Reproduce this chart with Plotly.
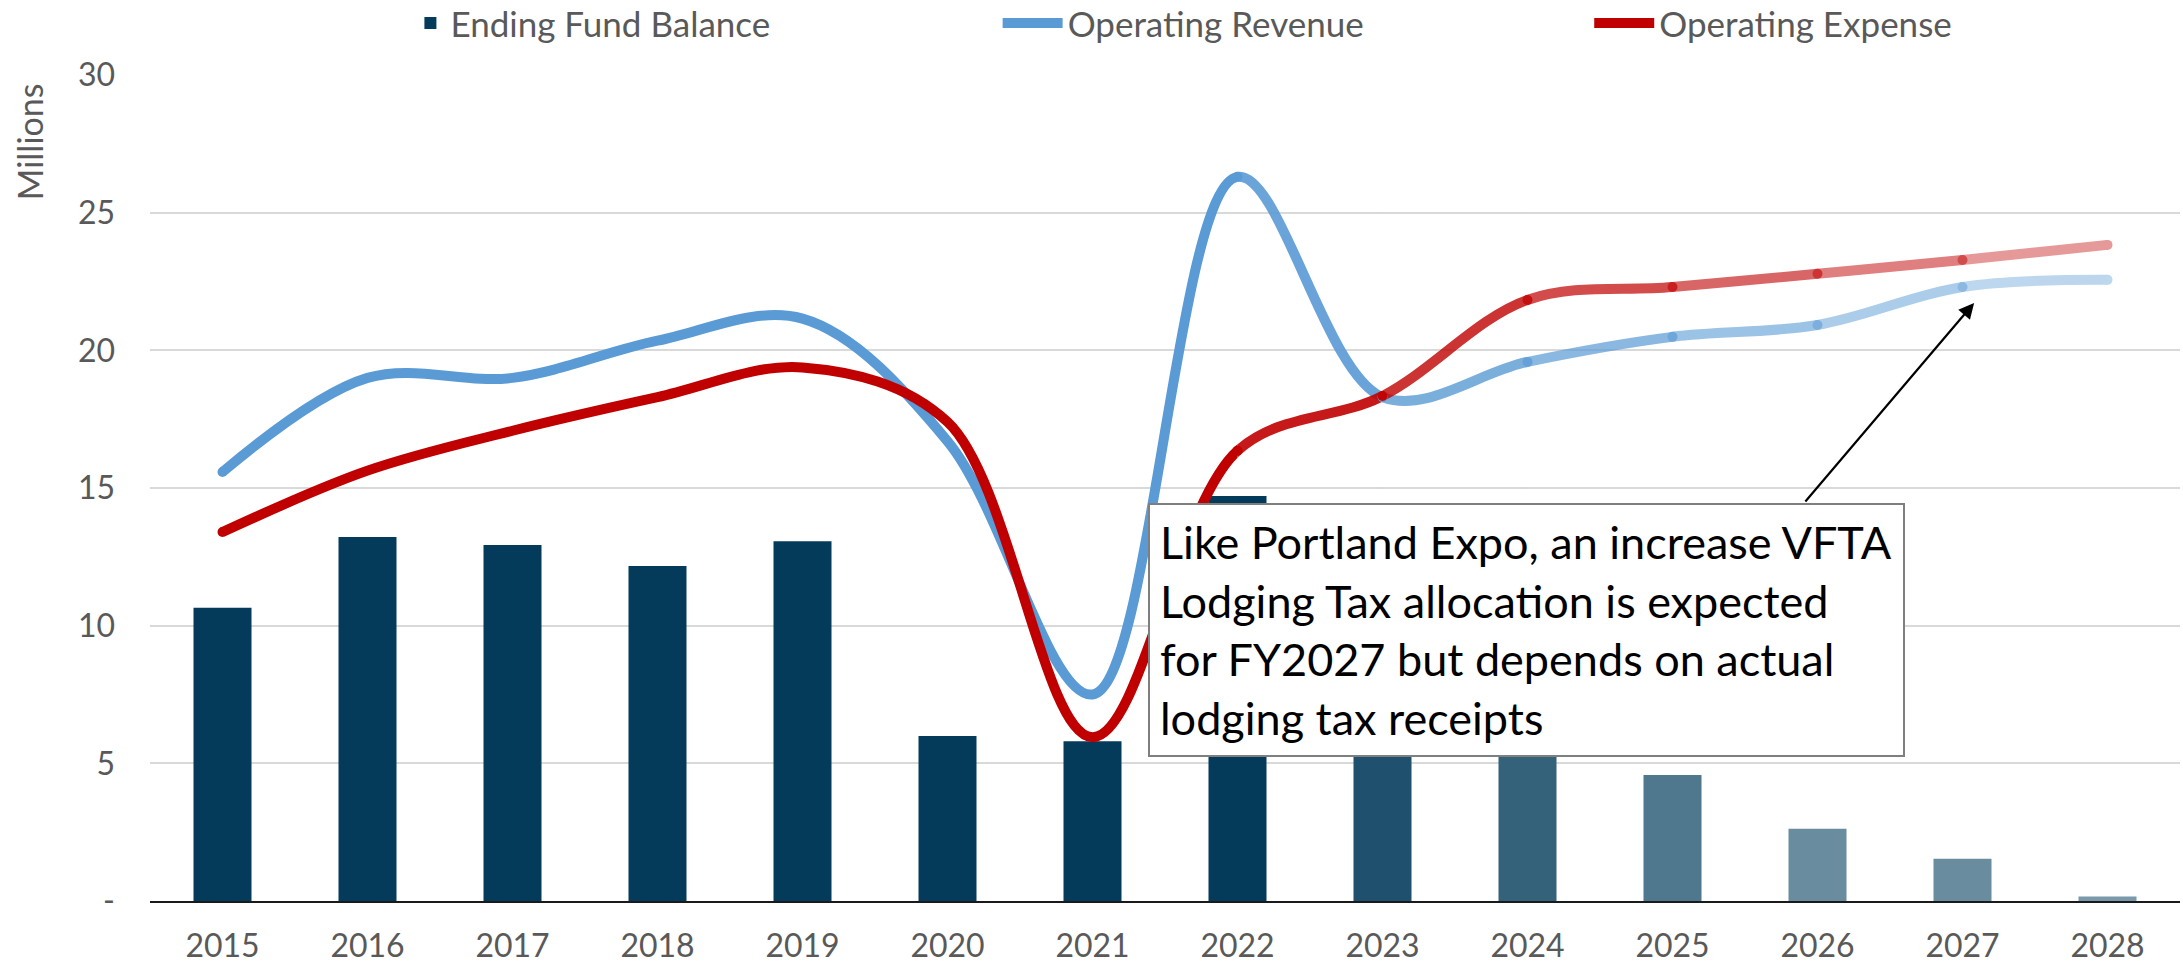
import plotly.graph_objects as go

# ---- data (millions) ----
years = ["2015", "2016", "2017", "2018", "2019", "2020", "2021",
         "2022", "2023", "2024", "2025", "2026", "2027", "2028"]
fund_balance = [10.65, 13.22, 12.93, 12.17, 13.07, 5.99, 5.80,
                14.71, 9.00, 7.00, 4.58, 2.62, 1.53, 0.16]
operating_revenue = [15.58, 19.00, 19.00, 20.35, 21.15, 16.70, 7.50,
                     26.30, 18.30, 19.58, 20.49, 20.92, 22.30, 22.56]
operating_expense = [13.40, 15.63, 17.08, 18.30, 19.38, 17.40, 5.95,
                     16.35, 18.34, 21.83, 22.30, 22.78, 23.28, 23.83]

y_ticks = [0, 5, 10, 15, 20, 25, 30]
y_tick_text = ["-", "5", "10", "15", "20", "25", "30"]

note = ("Like Portland Expo, an increase VFTA<br>"
        "Lodging Tax allocation is expected<br>"
        "for FY2027 but depends on actual<br>"
        "lodging tax receipts")

# ---- styling ----
FONT = "Lato, 'Open Sans', sans-serif"
GREY_TXT = "#595959"
NAVY = "#053B5A"
BLUE = "#5B9BD5"
RED = "#C00000"
bar_colors = [NAVY] * 8 + ["#1F506D", "#35627B", "#4F778D", "#698C9F", "#698C9F", "#7A99AA"]

# projected years fade out: (x-range start, x-range end, opacity)
segments = [(-0.5, 7, 1.0), (7, 8, 0.9), (8, 9, 0.8), (9, 10, 0.7),
            (10, 11, 0.6), (11, 12, 0.5), (12, 13.5, 0.4)]

n = len(years)
xs = list(range(n))


def dom(v):
    return (v + 0.5) / n


def blend(hex_color, alpha):
    h = hex_color.lstrip("#")
    rgb = [int(h[i:i + 2], 16) for i in (0, 2, 4)]
    out = [round(255 - (255 - c) * alpha) for c in rgb]
    return "rgb({},{},{})".format(*out)


fig = go.Figure()

fig.add_trace(go.Bar(
    x=xs, y=fund_balance, width=0.4, name="Ending Fund Balance",
    marker=dict(color=bar_colors, line=dict(width=0)),
    hoverinfo="skip", xaxis="x", yaxis="y", legend="legend",
))

layout_axes = {}
line_series = (("Operating Revenue", operating_revenue, BLUE, "legend2"),
               ("Operating Expense", operating_expense, RED, "legend3"))
for k, (r0, r1, op) in enumerate(segments):
    ax_id = k + 2
    layout_axes[f"xaxis{ax_id}"] = dict(domain=[dom(r0), dom(r1)], range=[r0, r1],
                                        visible=False, anchor=f"y{ax_id}", fixedrange=True)
    layout_axes[f"yaxis{ax_id}"] = dict(domain=[0, 1], range=[0, 30],
                                        visible=False, anchor=f"x{ax_id}", fixedrange=True)
    for name, vals, col, leg in line_series:
        fig.add_trace(go.Scatter(
            x=xs, y=vals, mode="lines", name=name, legendgroup=name, legend=leg,
            showlegend=(k == 0), opacity=op,
            line=dict(color=col, width=10, shape="spline", smoothing=1, simplify=False),
            xaxis=f"x{ax_id}", yaxis=f"y{ax_id}", hoverinfo="skip",
        ))

# joints between the fading pieces (overlapping round caps)
dot_idx = [0, 7, 8, 9, 10, 11, 12, 13]
dot_alpha = [1.0, 1.0, 0.98, 0.94, 0.88, 0.80, 0.70, 0.40]
top_id = len(segments) + 2
layout_axes[f"xaxis{top_id}"] = dict(domain=[0, 1], range=[-0.5, n - 0.5],
                                     visible=False, anchor=f"y{top_id}", fixedrange=True)
layout_axes[f"yaxis{top_id}"] = dict(domain=[0, 1], range=[0, 30],
                                     visible=False, anchor=f"x{top_id}", fixedrange=True)
for _, vals, col, _ in line_series:
    fig.add_trace(go.Scatter(
        x=[xs[i] for i in dot_idx], y=[vals[i] for i in dot_idx], mode="markers",
        marker=dict(size=10, color=[blend(col, a) for a in dot_alpha], line=dict(width=0)),
        showlegend=False, hoverinfo="skip", xaxis=f"x{top_id}", yaxis=f"y{top_id}",
    ))


def legend_at(x, item_w=30):
    return dict(orientation="h", xref="container", yref="container",
                x=x, xanchor="left", y=0.976, yanchor="middle",
                font=dict(family=FONT, size=35, color=GREY_TXT),
                itemwidth=item_w, bgcolor="rgba(0,0,0,0)")


fig.update_layout(
    width=2183, height=967,
    margin=dict(l=150, r=3, t=75, b=66, autoexpand=False),
    paper_bgcolor="white", plot_bgcolor="rgba(0,0,0,0)",
    font=dict(family=FONT, color=GREY_TXT),
    xaxis=dict(domain=[0, 1], range=[-0.5, n - 0.5], tickvals=xs, ticktext=years,
               showgrid=False, zeroline=False, showline=True, linecolor="#1A1A1A",
               linewidth=2, ticks="", ticklabelstandoff=16,
               tickfont=dict(family=FONT, size=32, color=GREY_TXT), fixedrange=True),
    yaxis=dict(domain=[0, 1], range=[0, 30], tickvals=y_ticks, ticktext=y_tick_text,
               showgrid=True, gridcolor="#D9D9D9", gridwidth=2, zeroline=False,
               showline=False, ticks="", ticklabelstandoff=34,
               tickfont=dict(family=FONT, size=32, color=GREY_TXT), fixedrange=True),
    legend=legend_at(0.188),
    legend2=legend_at(0.457, 60),
    legend3=legend_at(0.728, 60),
    showlegend=True,
    **layout_axes,
)

fig.add_annotation(
    text="Millions", xref="paper", yref="paper", x=-0.059, y=0.919,
    xanchor="center", yanchor="middle", textangle=-90, showarrow=False,
    font=dict(family=FONT, size=34, color=GREY_TXT),
)

fig.add_annotation(
    text=note, xref="x", yref="y", x=6.38, y=14.46, xanchor="left", yanchor="top",
    align="left", showarrow=False, width=733, borderpad=10, borderwidth=2,
    bordercolor="#7F7F7F", bgcolor="white",
    font=dict(family=FONT, size=45, color="black"),
)

fig.add_annotation(
    text="", xref="x", yref="y", x=12.08, y=21.72, ax=-170, ay=200,
    showarrow=True, arrowhead=2, arrowsize=1.4, arrowwidth=2.2,
    arrowcolor="black", standoff=0,
)

fig.write_html("out.html")
